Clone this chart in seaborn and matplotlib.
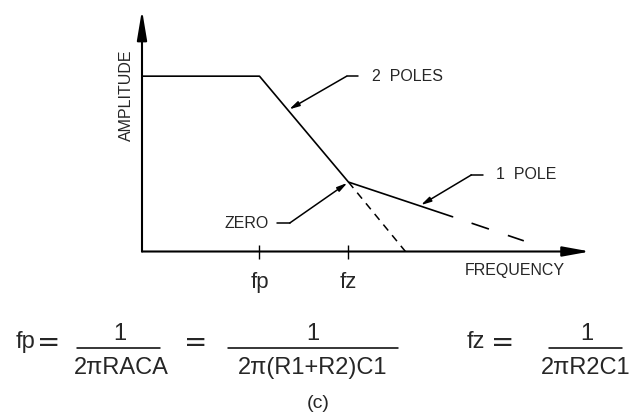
#!/usr/bin/env python3
"""
Bode amplitude sketch (c): asymptotes of a pole-zero network
with the fp / fz corner formulas underneath.
"""

import numpy as np
import matplotlib
matplotlib.use('Agg')
import matplotlib.pyplot as plt
from matplotlib.lines import Line2D
import seaborn as sns

# --- data (log-frequency units, 1 unit = the fp..fz step) ---
fp = 1.32
fz = 2.32
freq_asym = [0.0, fp, fz, 3.49]
amp_asym = [1.97, 1.97, 0.78, 0.39]

# 2-pole slope carried on past fz (short dashes)
freq_two_pole_ext = [fz, 2.96]
amp_two_pole_ext = [0.78, 0.0]

# 1-pole slope carried on (long dashes)
freq_one_pole_ext = [3.49, 4.29]
amp_one_pole_ext = [0.39, 0.12]

tick_positions = [fp, fz]
tick_labels = ['fp', 'fz']

# label, freq pointed at, knee (x, y), stub end x, text x, alignment
callouts = [
    ('2  POLES', 1.64, (2.30, 1.97), 2.43, 2.58, 'left'),
    ('1  POLE', 3.12, (3.70, 0.86), 3.83, 3.98, 'left'),
    ('ZERO', fz, (1.66, 0.32), 1.52, 1.42, 'right'),
]

# formula pieces, figure pixels (text, x, y)
formula_pieces = [
    ('fp', 26, 342), ('=', 49, 343),
    ('1', 120, 334), ('2\u03c0RACA', 121, 368),
    ('=', 196, 343),
    ('1', 313, 334), ('2\u03c0(R1+R2)C1', 313, 368),
    ('fz', 476, 342), ('=', 503, 343),
    ('1', 587, 334), ('2\u03c0R2C1', 586, 368),
]
fraction_bars = [(77, 160, 347.5), (228, 398, 347.5), (549, 622, 347.5)]
caption = ('(c)', 318, 403)

W, H = 632, 413
UNIT = 89  # pixels per data unit
AX_LEFT, AX_RIGHT, AX_TOP, AX_BOTTOM = 142, 600, 5, 251.5


def fig_xy(x_px, y_px):
    """Pixel position to figure fraction."""
    return x_px / W, 1 - y_px / H


def draw_curves(ax):
    """Asymptotes and their dashed extensions."""
    sns.lineplot(x=freq_asym, y=amp_asym, ax=ax, color='black', lw=1.2,
                 estimator=None, sort=False)
    sns.lineplot(x=freq_two_pole_ext, y=amp_two_pole_ext, ax=ax, color='black',
                 lw=1.1, estimator=None, sort=False, linestyle=(0, (5, 4)))
    sns.lineplot(x=freq_one_pole_ext, y=amp_one_pole_ext, ax=ax, color='black',
                 lw=1.2, estimator=None, sort=False, linestyle=(11, (11, 12)))


def draw_axes_arrows(ax):
    """Hand-drawn style axes with filled arrow heads."""
    x_end = (590 - AX_LEFT) / UNIT
    y_end = (AX_BOTTOM - 10) / UNIT
    style_h = '-|>,head_length=1.65,head_width=0.3'
    style_v = '-|>,head_length=1.8,head_width=0.3'
    ax.annotate('', xy=(x_end, 0), xytext=(0, 0),
                arrowprops=dict(arrowstyle=style_h, color='black', lw=1.5,
                                shrinkA=0, shrinkB=0, mutation_scale=10),
                annotation_clip=False)
    ax.annotate('', xy=(0, y_end), xytext=(0, 0),
                arrowprops=dict(arrowstyle=style_v, color='black', lw=1.5,
                                shrinkA=0, shrinkB=0, mutation_scale=10),
                annotation_clip=False)


def draw_callouts(ax):
    """Leader lines pointing at the slopes."""
    for label, target_x, knee, stub_x, text_x, ha in callouts:
        target_y = np.interp(target_x, freq_asym, amp_asym)
        ax.plot([stub_x, knee[0]], [knee[1], knee[1]], color='black', lw=1.1)
        ax.annotate('', xy=(target_x, target_y), xytext=knee,
                    arrowprops=dict(arrowstyle='-|>,head_length=0.6,head_width=0.15',
                                    color='black', lw=1.1, shrinkA=0, shrinkB=1,
                                    mutation_scale=10))
        ax.text(text_x, knee[1], label, ha=ha, va='center', fontsize=11.5)


def draw_formulas(fig):
    """Corner frequency formulas under the plot."""
    for text, x, y in formula_pieces:
        fx, fy = fig_xy(x, y)
        if text == '=':
            fig.text(fx, fy, text, ha='center', va='center', fontsize=20,
                     family=['DejaVu Sans'])
        else:
            fig.text(fx, fy, text, ha='center', va='center', fontsize=17)
    for x0, x1, y in fraction_bars:
        fx0, fy = fig_xy(x0, y)
        fx1, _ = fig_xy(x1, y)
        fig.add_artist(Line2D([fx0, fx1], [fy, fy], color='black', lw=1.1,
                              transform=fig.transFigure))
    text, x, y = caption
    fx, fy = fig_xy(x, y)
    fig.text(fx, fy, text, ha='center', va='center', fontsize=14)


def main():
    sns.set_theme(style='white')
    plt.rcParams['font.family'] = ['Liberation Sans', 'DejaVu Sans']

    fig = plt.figure(figsize=(W / 100, H / 100), dpi=100)
    fig.patch.set_facecolor('white')
    ax = fig.add_axes([AX_LEFT / W, 1 - AX_BOTTOM / H,
                       (AX_RIGHT - AX_LEFT) / W, (AX_BOTTOM - AX_TOP) / H])
    ax.set_xlim(0, (AX_RIGHT - AX_LEFT) / UNIT)
    ax.set_ylim(0, (AX_BOTTOM - AX_TOP) / UNIT)
    for side in ax.spines.values():
        side.set_visible(False)
    ax.patch.set_alpha(0)

    draw_curves(ax)
    draw_axes_arrows(ax)
    draw_callouts(ax)

    ax.set_xticks(tick_positions, tick_labels)
    ax.set_yticks([])
    ax.tick_params(axis='x', direction='inout', length=10, width=1.0,
                   color='black', labelsize=16, pad=10, bottom=True)

    ax.text((515 - AX_LEFT) / UNIT, (AX_BOTTOM - 271) / UNIT, 'FREQUENCY',
            ha='center', va='center', fontsize=11.5, clip_on=False)
    ax.text((126.5 - AX_LEFT) / UNIT, (AX_BOTTOM - 95) / UNIT, 'AMPLITUDE',
            ha='center', va='center', rotation=90, fontsize=11.5, clip_on=False)

    draw_formulas(fig)

    fig.savefig('out.png', dpi=100, facecolor='white')
    plt.close(fig)
    return 0


if __name__ == "__main__":
    main()
